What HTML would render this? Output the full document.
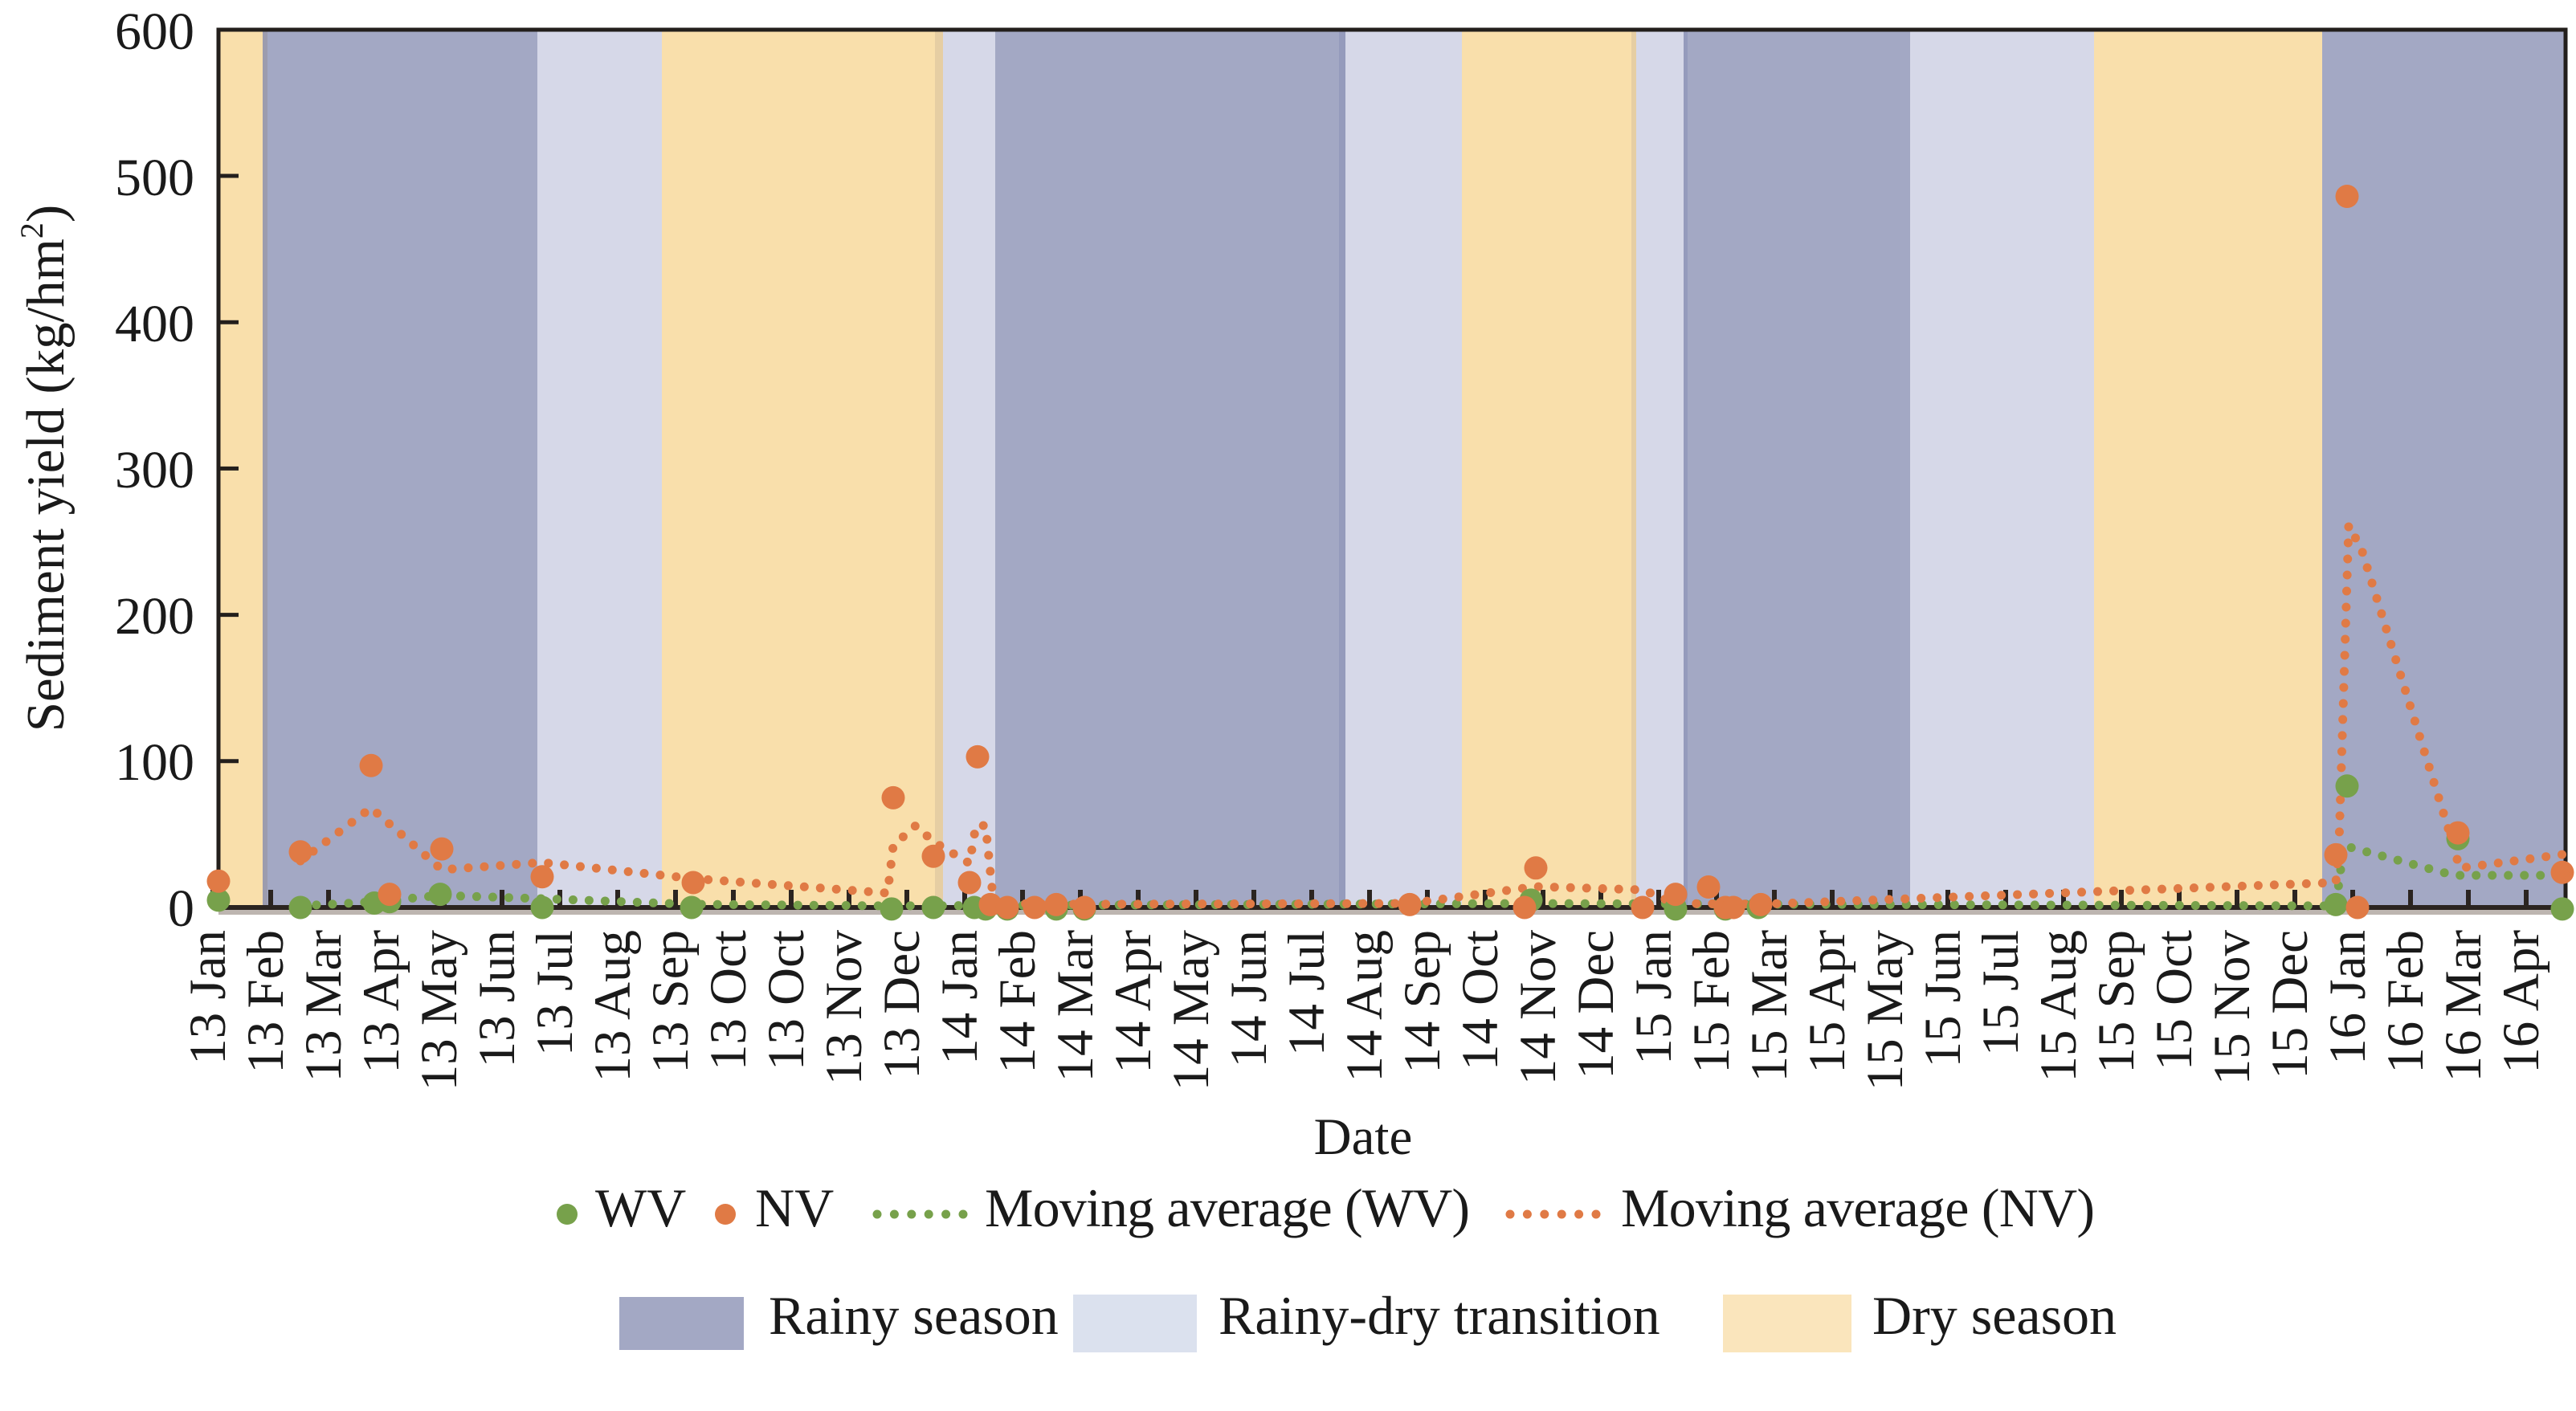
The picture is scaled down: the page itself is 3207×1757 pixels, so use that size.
<!DOCTYPE html>
<html><head><meta charset="utf-8"><style>
html,body{margin:0;padding:0;background:#fff;}
svg{display:block;}
svg, svg text{font-family:"Liberation Serif","Times New Roman","DejaVu Serif",serif !important;}
text{fill:#1a1a1a;}
</style></head><body>
<svg width="3207" height="1757" viewBox="0 0 3207 1757" xmlns="http://www.w3.org/2000/svg" font-family="Liberation Serif, Times New Roman, DejaVu Serif, serif">
<rect x="272" y="37" width="55" height="1093" fill="#f9dfab"/>
<rect x="327" y="37" width="342" height="1093" fill="#a3a8c4"/>
<rect x="327" y="37" width="6" height="1093" fill="#9c9cae"/>
<rect x="669" y="37" width="155" height="1093" fill="#d6d8e8"/>
<rect x="824" y="37" width="340" height="1093" fill="#f9dfab"/>
<rect x="1164" y="37" width="10" height="1093" fill="#e6cea3"/>
<rect x="1174" y="37" width="65" height="1093" fill="#d6d8e8"/>
<rect x="1239" y="37" width="428" height="1093" fill="#a3a8c4"/>
<rect x="1667" y="37" width="8" height="1093" fill="#959bbc"/>
<rect x="1675" y="37" width="145" height="1093" fill="#d6d8e8"/>
<rect x="1820" y="37" width="211" height="1093" fill="#f9dfab"/>
<rect x="2031" y="37" width="6" height="1093" fill="#e6cea3"/>
<rect x="2037" y="37" width="59" height="1093" fill="#d6d8e8"/>
<rect x="2096" y="37" width="282" height="1093" fill="#a3a8c4"/>
<rect x="2096" y="37" width="5" height="1093" fill="#959bbc"/>
<rect x="2378" y="37" width="229" height="1093" fill="#d6d8e8"/>
<rect x="2607" y="37" width="284" height="1093" fill="#f9dfab"/>
<rect x="2891" y="37" width="303" height="1093" fill="#a3a8c4"/>
<rect x="272" y="37" width="2922" height="1093" fill="none" stroke="#231f1c" stroke-width="5"/>
<rect x="272" y="1133" width="2922" height="6" fill="#bdb5b0"/>
<line x1="269" y1="1130" x2="3197" y2="1130" stroke="#2b2420" stroke-width="6"/>
<g stroke="#231f1c" stroke-width="5">
<line x1="272" y1="947.8" x2="297" y2="947.8"/>
<line x1="272" y1="765.6" x2="297" y2="765.6"/>
<line x1="272" y1="583.4" x2="297" y2="583.4"/>
<line x1="272" y1="401.2" x2="297" y2="401.2"/>
<line x1="272" y1="219" x2="297" y2="219"/>
</g>
<g font-size="66" text-anchor="end" font-family="Liberation Serif, serif">
<text x="242" y="1153">0</text>
<text x="242" y="971">100</text>
<text x="242" y="789">200</text>
<text x="242" y="607">300</text>
<text x="242" y="425">400</text>
<text x="242" y="243">500</text>
<text x="242" y="61">600</text>
</g>
<text transform="translate(79,583) rotate(-90)" font-size="67" text-anchor="middle" font-family="Liberation Serif, serif">Sediment yield (kg/hm<tspan font-size="40" dy="-26">2</tspan><tspan dy="26">)</tspan></text>
<g id="xt" stroke="#2b2420" stroke-width="6"></g>
<g id="xl" font-size="65" text-anchor="end" font-family="Liberation Serif, serif"></g>
<text x="1697" y="1437" font-size="65" text-anchor="middle" font-family="Liberation Serif, serif">Date</text>
<polyline fill="none" stroke="#77a14b" stroke-width="11" stroke-linecap="round" stroke-dasharray="0 20" points="374,1128 466,1123 548,1115 675,1119 861,1126 1110,1128 1906,1125 2908,1128 2918,1053 3055,1090 3190,1090"/>
<polyline fill="none" stroke="#e07a45" stroke-width="11" stroke-linecap="round" stroke-dasharray="0 20" points="374,1072 462,1006 550,1083 675,1074 863,1094 1105,1112 1112,1053 1140,1028 1162,1048 1207,1075 1215,1028 1227,1028 1237,1125 1350,1126 1755,1125 1912,1104 2045,1108 2086,1125 2192,1126 2908,1099 2912,1050 2924,654 2940,684 3053,1048 3062,1081 3190,1064"/>
<g fill="#77a14b" id="wv"></g>
<g fill="#e07a45" id="nv"></g>
<g font-size="68" font-family="Liberation Serif, serif">
<circle cx="706" cy="1512" r="13" fill="#77a14b"/>
<text x="741" y="1527">WV</text>
<circle cx="903" cy="1512" r="13" fill="#e07a45"/>
<text x="940" y="1527">NV</text>
<line x1="1092" y1="1512" x2="1200" y2="1512" stroke="#77a14b" stroke-width="11" stroke-linecap="round" stroke-dasharray="0 21.4"/>
<text x="1226" y="1527" textLength="604">Moving average (WV)</text>
<line x1="1880" y1="1512" x2="1988" y2="1512" stroke="#e07a45" stroke-width="11" stroke-linecap="round" stroke-dasharray="0 21.4"/>
<text x="2018" y="1527" textLength="590">Moving average (NV)</text>
<rect x="771" y="1615" width="155" height="66" fill="#a3a8c4"/>
<text x="957" y="1661">Rainy season</text>
<rect x="1336" y="1612" width="154" height="72" fill="#dbe1ee"/>
<text x="1517" y="1661">Rainy-dry transition</text>
<rect x="2145" y="1612" width="160" height="72" fill="#fae5bc"/>
<text x="2331" y="1661">Dry season</text>
</g>
</svg>
<script>
var labs=["13 Jan","13 Feb","13 Mar","13 Apr","13 May","13 Jun","13 Jul","13 Aug","13 Sep","13 Oct","13 Oct","13 Nov","13 Dec","14 Jan","14 Feb","14 Mar","14 Apr","14 May","14 Jun","14 Jul","14 Aug","14 Sep","14 Oct","14 Nov","14 Dec","15 Jan","15 Feb","15 Mar","15 Apr","15 May","15 Jun","15 Jul","15 Aug","15 Sep","15 Oct","15 Nov","15 Dec","16 Jan","16 Feb","16 Mar","16 Apr"];
var NS="http://www.w3.org/2000/svg";
var xt=document.getElementById("xt"),xl=document.getElementById("xl");
labs.forEach(function(l,i){var x=265+72*i;
var t=document.createElementNS(NS,"line");t.setAttribute("x1",x);t.setAttribute("x2",x);t.setAttribute("y1",1108);t.setAttribute("y2",1130);xt.appendChild(t);
var s=document.createElementNS(NS,"text");s.setAttribute("transform","translate("+(x-8)+",1158) rotate(-90)");s.setAttribute("dy","0.35em");s.textContent=l;xl.appendChild(s);});
function pts(id,arr){var g=document.getElementById(id);arr.forEach(function(p){var c=document.createElementNS(NS,"circle");c.setAttribute("cx",p[0]);c.setAttribute("cy",1130-1.822*p[1]);c.setAttribute("r",14.5);g.appendChild(c);});}
pts("wv",[[272,5],[374,0],[466,3],[485,4],[548,9],[675,0],[861,0],[1110,-1],[1162,0],[1213,0],[1227,-1],[1254,-1],[1315,-1],[1350,-1],[1906,5],[2086,-1],[2148,-1],[2189,0],[2908,2],[2922,83],[3060,47],[3190,-1]]);
pts("nv",[[272,18],[374,38],[462,97],[485,9],[550,40],[675,21],[863,17],[1112,75],[1162,35],[1207,17],[1217,103],[1233,2],[1254,0],[1288,0],[1315,2],[1350,0],[1755,2],[1898,0],[1912,27],[2045,0],[2086,9],[2127,14],[2148,0],[2158,0],[2192,2],[2908,36],[2922,486],[2935,0],[3060,51],[3190,24]]);
</script>
</body></html>
